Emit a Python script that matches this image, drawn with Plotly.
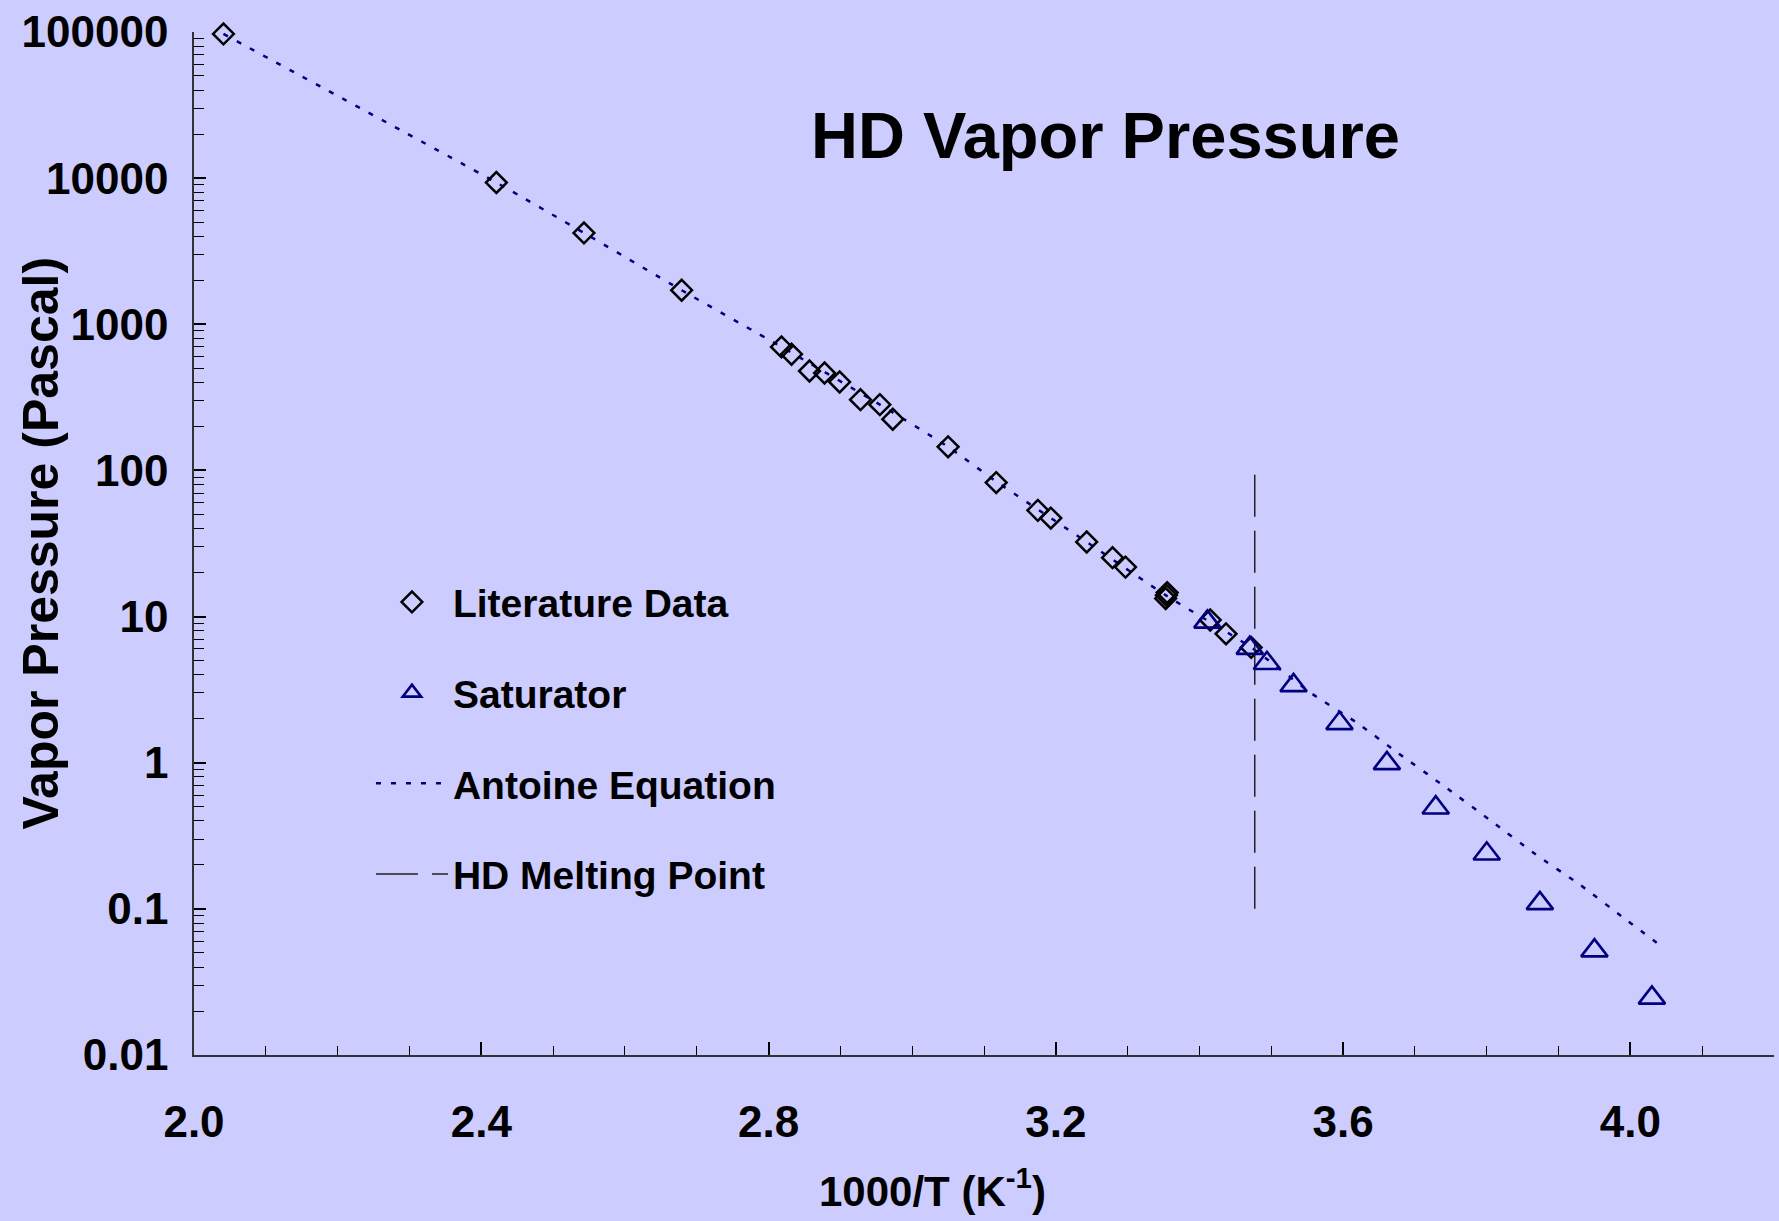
import plotly.graph_objects as go

# ---------------- data ----------------
lit_x = [2.041, 2.421, 2.543, 2.679, 2.818, 2.832, 2.857, 2.878, 2.899, 2.928,
         2.955, 2.973, 3.050, 3.117, 3.175, 3.193, 3.243, 3.279, 3.297, 3.353,
         3.354, 3.355, 3.415, 3.437, 3.472]
lit_p = [97000, 9330, 4220, 1710, 700, 624, 479, 464, 403, 305,
         282, 224, 145, 82.6, 53.3, 47.2, 32.4, 25.3, 21.8, 13.3,
         14.0, 14.6, 9.48, 7.62, 6.15]

sat_x = [3.411, 3.470, 3.494, 3.531, 3.595, 3.661, 3.729, 3.800, 3.874, 3.950, 4.030]
sat_p = [9.2, 6.08, 4.79, 3.38, 1.86, 0.99, 0.492, 0.238, 0.109, 0.0518, 0.0246]

antoine_x = [2.041, 2.421, 2.543, 2.679, 2.818, 2.955, 3.050, 3.117, 3.243, 3.354,
             3.472, 3.556, 3.619, 3.676, 3.739, 3.806, 3.868, 3.930, 3.993, 4.047]
antoine_p = [97000, 9330, 4220, 1710, 700, 282, 145, 84, 32.4, 13.9,
             6.15, 2.98, 1.88, 1.17, 0.70, 0.40, 0.236, 0.146, 0.085, 0.0537]

melt_x = [3.477, 3.477]
melt_p = [0.1, 100]

y_tickvals = [0.01, 0.1, 1, 10, 100, 1000, 10000, 100000]
y_ticktext = ["0.01", "0.1", "1", "10", "100", "1000", "10000", "100000"]
x_tickvals = [2.0, 2.4, 2.8, 3.2, 3.6, 4.0]
x_ticktext = ["2.0", "2.4", "2.8", "3.2", "3.6", "4.0"]

# ---------------- styling ----------------
BG = "#CCCCFF"
NAVY = "#000080"
NARROW = "Liberation Sans Narrow, Arial Narrow, Liberation Sans, Arial, sans-serif"
WIDE = "Liberation Sans, Arial, sans-serif"

fig = go.Figure()

fig.add_trace(go.Scatter(
    x=antoine_x, y=antoine_p, mode="lines", name="Antoine Equation",
    line=dict(color=NAVY, width=2.5, dash="5px,10px", shape="spline", smoothing=0.6),
    legendgroup="c", legendrank=3, cliponaxis=False))

fig.add_trace(go.Scatter(
    x=melt_x, y=melt_p, mode="lines", name="HD Melting Point",
    line=dict(color="#222222", width=1.5, dash="42px,14px"),
    legendgroup="d", legendrank=4, cliponaxis=False))

fig.add_trace(go.Scatter(
    x=lit_x, y=lit_p, mode="markers", name="Literature Data",
    marker=dict(symbol="diamond-open", size=16, color="black",
                line=dict(color="black", width=2.5)),
    legendgroup="a", legendrank=1, cliponaxis=False))

fig.add_trace(go.Scatter(
    x=sat_x, y=sat_p, mode="markers", name="Saturator",
    marker=dict(symbol="triangle-up-open", size=23, color=NAVY,
                line=dict(color=NAVY, width=2.6)),
    legendgroup="b", legendrank=2, cliponaxis=False))

minor_y = [m * 10.0 ** e for e in range(-2, 5) for m in range(2, 10)]

fig.update_layout(
    width=1779, height=1221,
    paper_bgcolor=BG, plot_bgcolor=BG,
    margin=dict(l=194, r=5, t=32, b=166),
    showlegend=True,
    legend=dict(
        x=0.112, y=0.474, xanchor="left", yanchor="top",
        bgcolor="rgba(0,0,0,0)",
        font=dict(family=NARROW, size=39, color="black", weight="bold"),
        tracegroupgap=37, itemwidth=72,
    ),
    xaxis=dict(
        range=[2.0, 4.2], showgrid=False, zeroline=False,
        showline=True, linecolor="#333333", linewidth=1.5,
        tickmode="array", tickvals=x_tickvals, ticktext=x_ticktext,
        ticks="inside", ticklen=13, tickwidth=1.5, tickcolor="black",
        tickfont=dict(family=NARROW, size=44, color="black", weight="bold"),
        ticklabelstandoff=27,
        minor=dict(dtick=0.1, tick0=2.0, ticks="inside", ticklen=9,
                   tickwidth=1.2, tickcolor="black", showgrid=False),
    ),
    yaxis=dict(
        type="log", range=[-2, 5], showgrid=False, zeroline=False,
        showline=True, linecolor="#333333", linewidth=1.5,
        tickmode="array", tickvals=y_tickvals, ticktext=y_ticktext,
        ticks="inside", ticklen=12, tickwidth=1.5, tickcolor="black",
        tickfont=dict(family=NARROW, size=44, color="black", weight="bold"),
        ticklabelstandoff=15,
        minor=dict(tickmode="array", tickvals=minor_y, ticks="inside", ticklen=10,
                   tickwidth=1.2, tickcolor="black", showgrid=False),
    ),
    annotations=[
        dict(text="HD Vapor Pressure", xref="paper", yref="paper",
             x=(1105 - 194) / 1580, y=0.899, xanchor="center", yanchor="middle",
             showarrow=False,
             font=dict(family=NARROW, size=65, color="black", weight="bold")),
        dict(text="1000/T (K<sup>-1</sup>)", xref="paper", yref="paper",
             x=(932 - 194) / 1580, y=-0.13, xanchor="center", yanchor="middle",
             showarrow=False,
             font=dict(family=NARROW, size=42, color="black", weight="bold")),
        dict(text="Vapor Pressure (Pascal)", xref="paper", yref="paper",
             x=(40 - 194) / 1580, y=0.5, xanchor="center", yanchor="middle",
             textangle=-90, showarrow=False,
             font=dict(family=WIDE, size=50, color="black", weight="bold")),
    ],
)

fig.write_html("out.html")
